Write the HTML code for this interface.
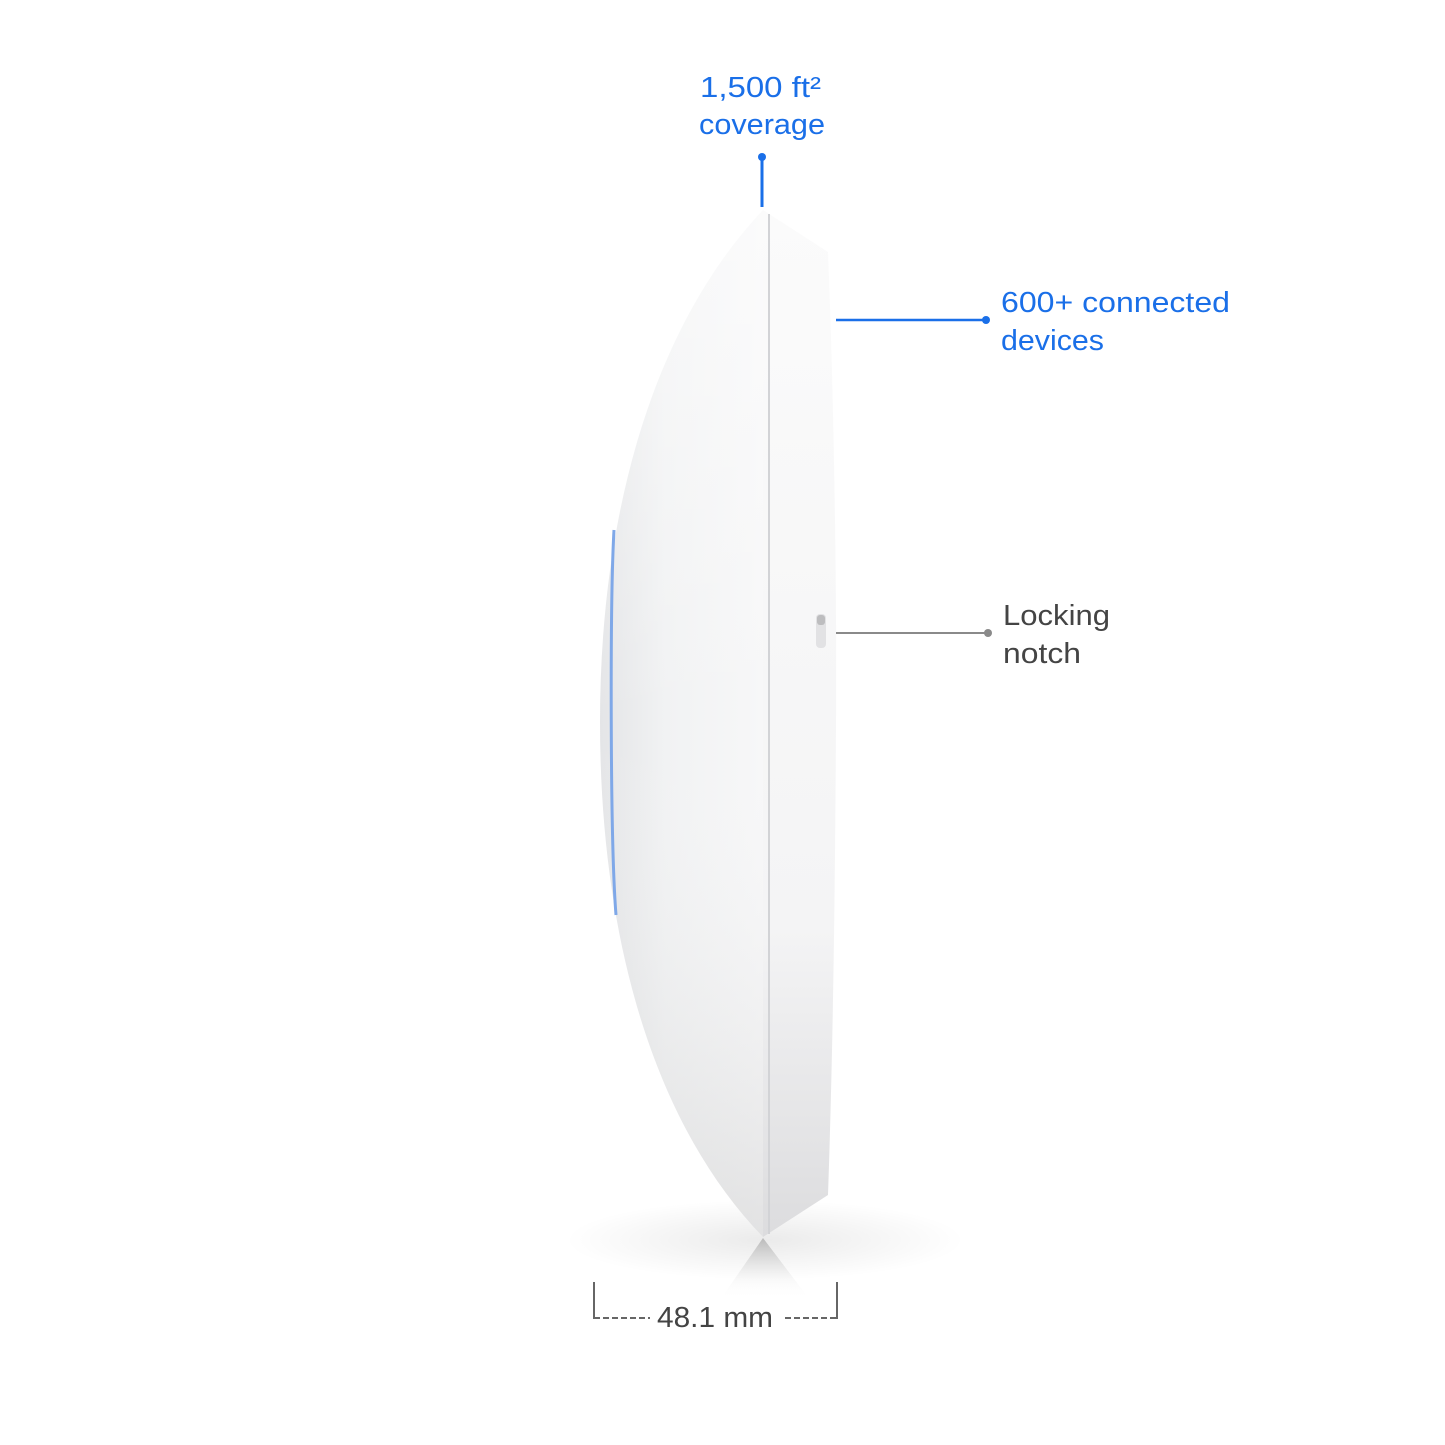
<!DOCTYPE html>
<html><head><meta charset="utf-8"><style>
html,body{margin:0;padding:0;background:#fff;}
svg{display:block}
text{font-family:"Liberation Sans",sans-serif;}
</style></head><body>
<svg width="1445" height="1445" viewBox="0 0 1445 1445" xmlns="http://www.w3.org/2000/svg">
<defs>
<linearGradient id="dome" x1="0" y1="0" x2="1" y2="0">
<stop offset="0" stop-color="#e4e5e7"/><stop offset="0.4" stop-color="#f1f2f3"/><stop offset="1" stop-color="#f7f7f8"/>
</linearGradient>
<linearGradient id="domev" x1="0" y1="0" x2="0" y2="1">
<stop offset="0" stop-color="#fff" stop-opacity="0.5"/><stop offset="0.5" stop-color="#fff" stop-opacity="0"/><stop offset="1" stop-color="#bbb" stop-opacity="0.35"/>
</linearGradient>
<linearGradient id="flange" x1="0" y1="0" x2="0" y2="1">
<stop offset="0" stop-color="#fbfbfb"/><stop offset="0.7" stop-color="#f4f4f5"/><stop offset="1" stop-color="#dcdcde"/>
</linearGradient>
<radialGradient id="sh" cx="0.5" cy="0.5" r="0.5">
<stop offset="0" stop-color="#000" stop-opacity="0.08"/><stop offset="1" stop-color="#000" stop-opacity="0"/>
</radialGradient>
<linearGradient id="refl" x1="0" y1="0" x2="0" y2="1">
<stop offset="0" stop-color="#888" stop-opacity="0.5"/><stop offset="1" stop-color="#fff" stop-opacity="0"/>
</linearGradient>
</defs>
<rect width="1445" height="1445" fill="#fff"/>
<ellipse cx="765" cy="1240" rx="200" ry="40" fill="url(#sh)"/>
<polygon points="763,1238 720,1300 810,1300" fill="url(#refl)"/>
<path d="M763,210 C650,330 600,520 600,722 C600,930 650,1120 763,1237 Z" fill="url(#dome)"/>
<path d="M763,210 C650,330 600,520 600,722 C600,930 650,1120 763,1237 Z" fill="url(#domev)"/>
<path d="M614,530 C610,600 610,840 616,915" stroke="#7fa8e8" stroke-width="3" fill="none"/>
<path d="M763,210 L828,252 C834,400 837,600 836,722 C835,900 833,1050 828,1195 L763,1237 Z" fill="url(#flange)"/>
<line x1="769" y1="214" x2="769" y2="1234" stroke="#d2d3d6" stroke-width="2"/>
<rect x="816" y="614" width="10" height="34" rx="4" fill="#e2e2e4"/>
<rect x="817" y="615" width="8" height="10" rx="3" fill="#bdbdbf"/>
<line x1="762" y1="157" x2="762" y2="207" stroke="#1a6fe8" stroke-width="3"/>
<circle cx="762" cy="157" r="4" fill="#1a6fe8"/>
<text x="700" y="97" font-size="29" fill="#1a6fe8" textLength="121" lengthAdjust="spacingAndGlyphs">1,500 ft²</text>
<text x="699" y="134" font-size="29" fill="#1a6fe8" textLength="126" lengthAdjust="spacingAndGlyphs">coverage</text>
<line x1="836" y1="320" x2="986" y2="320" stroke="#1a6fe8" stroke-width="2.5"/>
<circle cx="986" cy="320" r="4" fill="#1a6fe8"/>
<text x="1001" y="312" font-size="29" fill="#1a6fe8" textLength="229" lengthAdjust="spacingAndGlyphs">600+ connected</text>
<text x="1001" y="350" font-size="29" fill="#1a6fe8" textLength="103" lengthAdjust="spacingAndGlyphs">devices</text>
<line x1="836" y1="633" x2="988" y2="633" stroke="#8a8a8a" stroke-width="2"/>
<circle cx="988" cy="633" r="4" fill="#8a8a8a"/>
<text x="1003" y="625" font-size="29" fill="#444" textLength="107" lengthAdjust="spacingAndGlyphs">Locking</text>
<text x="1003" y="663" font-size="29" fill="#444" textLength="78" lengthAdjust="spacingAndGlyphs">notch</text>
<line x1="594" y1="1282" x2="594" y2="1319" stroke="#666" stroke-width="2"/>
<line x1="594" y1="1318" x2="650" y2="1318" stroke="#666" stroke-width="2" stroke-dasharray="6,3"/>
<line x1="785" y1="1318" x2="836" y2="1318" stroke="#666" stroke-width="2" stroke-dasharray="6,3"/>
<line x1="837" y1="1282" x2="837" y2="1319" stroke="#666" stroke-width="2"/>
<text x="657" y="1327" font-size="29" fill="#444" textLength="116" lengthAdjust="spacingAndGlyphs">48.1 mm</text>
</svg>
</body></html>
